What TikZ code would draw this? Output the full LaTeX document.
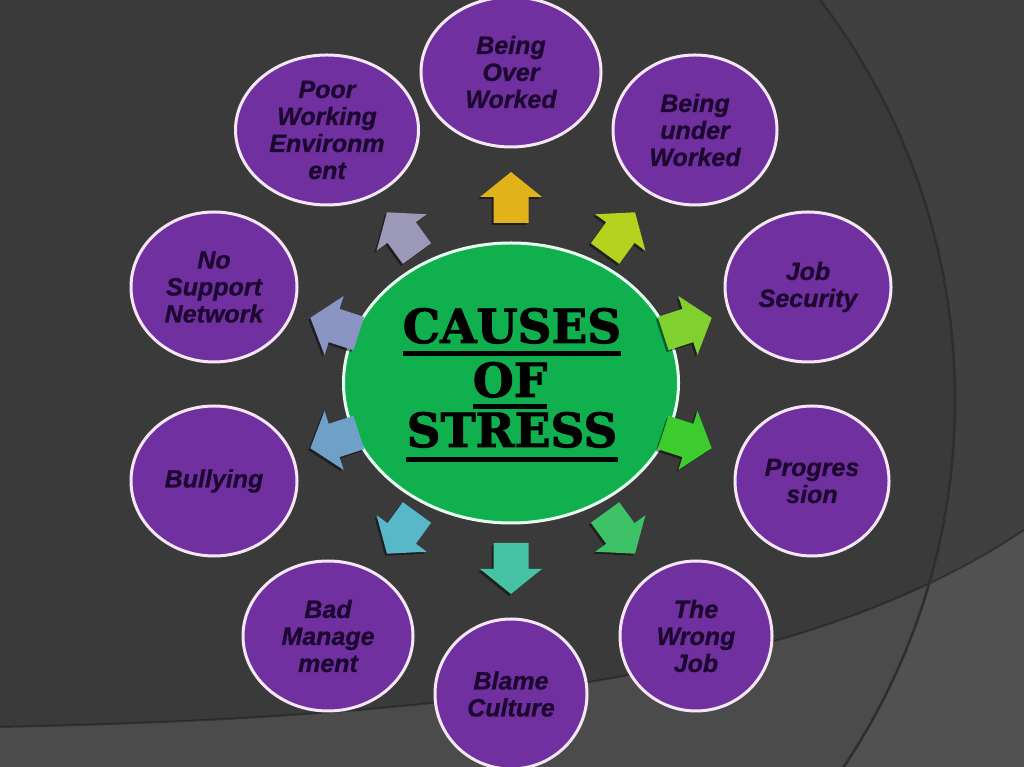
\documentclass[tikz,border=0pt]{standalone}
\usepackage{fontspec}
\setmainfont{Liberation Sans}[BoldItalicFeatures={FakeBold=0.8}]
\newfontfamily\stressfont{DejaVu Serif}[BoldFeatures={FakeBold=2}]
\usetikzlibrary{shapes.geometric}

\definecolor{bgdark}{HTML}{3A3A3A}
\definecolor{bgright}{HTML}{404040}
\definecolor{arcline}{HTML}{2E2E2E}
\definecolor{causefill}{HTML}{7030A0}
\definecolor{causeline}{HTML}{F4E6F4}
\definecolor{causetext}{HTML}{1C0630}
\definecolor{hubfill}{HTML}{10B04E}
\definecolor{hubline}{HTML}{E6FFF0}
\definecolor{arrA}{HTML}{E0B319}
\definecolor{arrB}{HTML}{B5D21F}
\definecolor{arrC}{HTML}{80D030}
\definecolor{arrD}{HTML}{3DCC2E}
\definecolor{arrE}{HTML}{3DC268}
\definecolor{arrF}{HTML}{46C3A2}
\definecolor{arrG}{HTML}{58B7C8}
\definecolor{arrH}{HTML}{6FA0C8}
\definecolor{arrI}{HTML}{8A95C4}
\definecolor{arrJ}{HTML}{9B98B8}

\tikzset{
  cause/.style={ellipse, draw=causeline, line width=3, fill=causefill,
                text=causetext, inner sep=0, minimum height=150, align=center,
                font=\fontsize{25}{27}\selectfont\bfseries\itshape},
  hub/.style={ellipse, draw=hubline, line width=3, fill=hubfill, inner sep=0},
  word/.style={anchor=base, inner sep=0,
               font=\stressfont\bfseries\fontsize{47}{50}\selectfont},
  uline/.style={line width=5, black},
  arrshadow/.style={black, opacity=.45}
}

\begin{document}
\begin{tikzpicture}[x=1pt, y=1pt]
\clip (0,0) rectangle (1024,767);

% background
\fill[bgright] (0,0) rectangle (1024,767);
\fill[bgdark] (295,367) circle[radius=660];
\fill[white, opacity=.09] (0,0) -- (0,40) .. controls (500,50) and (820,100) .. (1024,237) -- (1024,0) -- cycle;
\draw[black, opacity=.3, line width=2] (0,40) .. controls (500,50) and (820,100) .. (1024,237);
\draw[arcline, line width=2.5] (295,367) circle[radius=660];

% centre
\node[hub, minimum width=335, minimum height=280] (hub) at (511,384) {};
\node[word] (w1) at (512,424) {CAUSES};
\node[word] (w2) at (510,370) {OF};
\node[word] (w3) at (512,320) {STRESS};
\draw[uline] ([yshift=-11]w1.base west) -- ([yshift=-11]w1.base east);
\draw[uline] ([yshift=-10]w2.base west) -- ([yshift=-10]w2.base east);
\draw[uline] ([yshift=-13]w3.base west) -- ([yshift=-13]w3.base east);

% arrows
\foreach \a/\col in {90/arrA, 54/arrB, 18/arrC, -18/arrD, -54/arrE,
                     -90/arrF, -126/arrG, -162/arrH, 162/arrI, 126/arrJ} {
  \fill[arrshadow, shift={(hub.center)}, shift={(-2,-2)}, rotate=\a]
    (160,-17.5) -- (186,-17.5) -- (186,-31) -- (211,0) -- (186,31) -- (186,17.5) -- (160,17.5) -- cycle;
  \fill[\col, shift={(hub.center)}, rotate=\a]
    (160,-17.5) -- (186,-17.5) -- (186,-31) -- (211,0) -- (186,31) -- (186,17.5) -- (160,17.5) -- cycle;
}

% causes
\foreach \nm/\x/\y/\w/\txt in {
    over/511/695/180/{Being\\Over\\Worked},
    under/695/637/164/{Being\\under\\Worked},
    jobsec/808/480/166/{Job\\Security},
    progr/812/286/154/{Progres\\sion},
    wrong/696/131/152/{The\\Wrong\\Job},
    blame/511/73/152/{Blame\\Culture},
    badman/328/131/170/{Bad\\Manage\\ment},
    bully/214/286/166/{Bullying},
    nosupp/214/480/166/{No\\Support\\Network},
    poor/327/637/183/{Poor\\Working\\Environm\\ent}} {
  \node[cause, minimum width=\w] (\nm) at (\x,\y) {\txt};
}
\end{tikzpicture}
\end{document}
